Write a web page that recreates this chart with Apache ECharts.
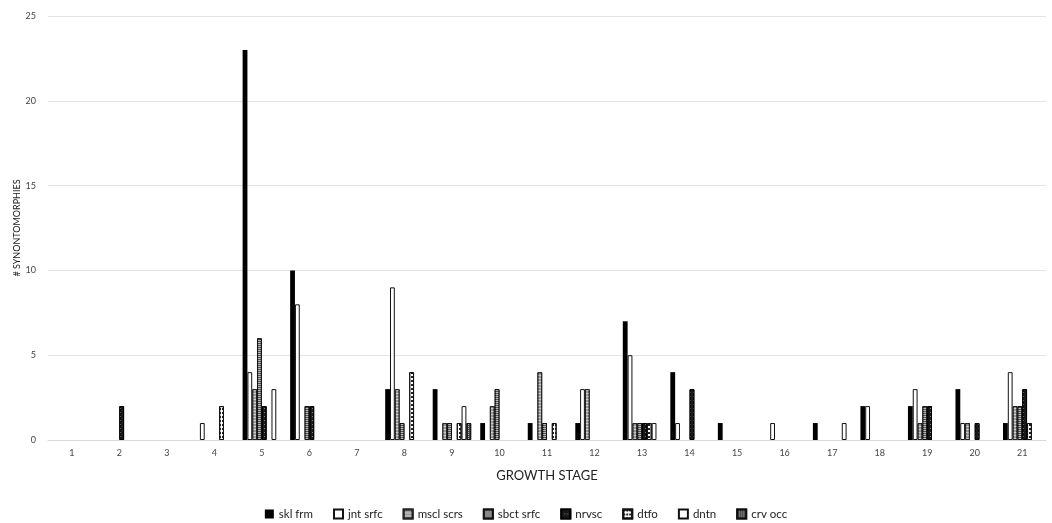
<!DOCTYPE html>
<html><head><meta charset="utf-8">
<script src="https://cdn.jsdelivr.net/npm/echarts@6/dist/echarts.min.js"></script>
<style>html,body{margin:0;padding:0;background:#fff}#c{width:1052px;height:523px}</style>
</head><body><div id="c"></div>
<script>
const categories = ['1','2','3','4','5','6','7','8','9','10','11','12','13','14','15','16','17','18','19','20','21'];
const sklFrm   = [0,0,0,0,23,10,0,3,3,1,1,1,7,4,1,0,1,2,2,3,1];
const jntSrfc  = [0,0,0,1,4,8,0,9,0,0,0,3,5,1,0,1,0,2,3,1,4];
const msclScrs = [0,0,0,0,3,0,0,3,1,2,4,3,1,0,0,0,0,0,1,1,2];
const sbctSrfc = [0,0,0,0,6,2,0,1,1,3,1,0,1,0,0,0,0,0,2,0,2];
const nrvsc    = [0,2,0,0,2,2,0,0,0,0,0,0,1,3,0,0,0,0,2,1,3];
const dtfo     = [0,0,0,2,0,0,0,4,1,0,1,0,1,0,0,0,0,0,0,0,1];
const dntn     = [0,0,0,0,3,0,0,0,2,0,0,0,1,0,0,0,1,0,0,0,0];
const crvOcc   = [0,0,0,0,0,0,0,0,1,0,0,0,0,0,0,0,0,0,0,0,0];
const yTicks = [0,5,10,15,20,25];

const FONT = 'Lato';
const styles = {
  'skl frm':   {color:'#000', borderColor:'#000', borderWidth:0},
  'jnt srfc':  {color:'#fff', borderColor:'#111', borderWidth:1},
  'mscl scrs': {color:'#9a9a9a', borderColor:'#222', borderWidth:1,
                decal:{symbol:'rect', symbolSize:1, color:'rgba(255,255,255,0.5)', dashArrayX:[1,0], dashArrayY:[1,2], rotation:0}},
  'sbct srfc': {color:'#555', borderColor:'#111', borderWidth:1,
                decal:{symbol:'rect', symbolSize:1, color:'rgba(255,255,255,0.6)', dashArrayX:[1,0], dashArrayY:[1,1], rotation:0}},
  'nrvsc':     {color:'#1a1a1a', borderColor:'#000', borderWidth:1,
                decal:{symbol:'rect', symbolSize:1, color:'rgba(255,255,255,0.45)', dashArrayX:[[1,2]], dashArrayY:[1,3], rotation:0}},
  'dtfo':      {color:'#fff', borderColor:'#111', borderWidth:1,
                decal:{symbol:'rect', symbolSize:1, color:'#222', dashArrayX:[[2,1]], dashArrayY:[2,2], rotation:0}},
  'dntn':      {color:'#fff', borderColor:'#111', borderWidth:1},
  'crv occ':   {color:'#444', borderColor:'#111', borderWidth:1,
                decal:{symbol:'rect', symbolSize:1, color:'rgba(255,255,255,0.6)', dashArrayX:[[1,1]], dashArrayY:[1,1], rotation:0}}
};
const seriesData = [
  ['skl frm', sklFrm], ['jnt srfc', jntSrfc], ['mscl scrs', msclScrs], ['sbct srfc', sbctSrfc],
  ['nrvsc', nrvsc], ['dtfo', dtfo], ['dntn', dntn], ['crv occ', crvOcc]
];

const chart = echarts.init(document.getElementById('c'), null, {renderer:'canvas'});
chart.setOption({
  animation:false,
  backgroundColor:'#fff',
  textStyle:{fontFamily:FONT},
  grid:{left:48, right:6, top:16, bottom:83, containLabel:false},
  legend:{
    top:503, left:'center', icon:'rect', itemWidth:9, itemHeight:9, itemGap:20,
    textStyle:{fontFamily:FONT, fontSize:11.5, color:'#222'},
    data: seriesData.map(s=>s[0])
  },
  xAxis:{
    type:'category', data:categories,
    name:'GROWTH STAGE', nameLocation:'middle', nameGap:29,
    nameTextStyle:{fontFamily:FONT, fontSize:13, color:'#222'},
    axisLine:{lineStyle:{color:'#d9d9d9'}}, axisTick:{show:false},
    axisLabel:{fontFamily:FONT, fontSize:9, color:'#444', margin:9}
  },
  yAxis:{
    type:'value', min:yTicks[0], max:yTicks[yTicks.length-1], interval:5,
    name:'# SYNONTOMORPHIES', nameLocation:'middle', nameGap:26, nameRotate:90,
    nameMoveOverlap:false,
    nameTextStyle:{fontFamily:FONT, fontSize:9, color:'#222'},
    axisLine:{show:false}, axisTick:{show:false},
    splitLine:{lineStyle:{color:'#e3e3e3'}},
    axisLabel:{fontFamily:FONT, fontSize:9, color:'#444', margin:12}
  },
  series: seriesData.map(([name, vals]) => ({
    name, type:'bar', barGap:'0%', barCategoryGap:'19%',
    data: vals.map(v => v === 0 ? '-' : v),
    itemStyle: styles[name]
  }))
});
</script></body></html>
